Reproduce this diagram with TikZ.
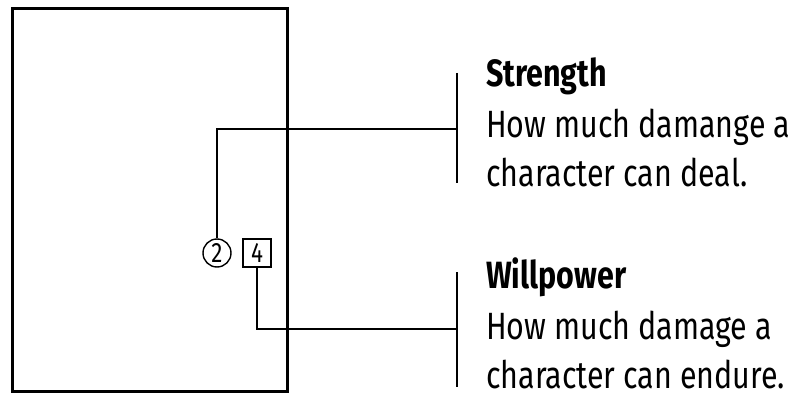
\documentclass[tikz,border=0pt]{standalone}
\usepackage{fontspec}
\setmainfont{Fira Sans}[FakeStretch=0.8]
\begin{document}
\begin{tikzpicture}[x=1pt,y=-1pt,
  conn/.style={line width=1.3pt},
  txt/.style={anchor=base west,inner sep=0pt,font=\fontsize{38}{38}\selectfont},
  head/.style={txt,font=\fontsize{38}{38}\selectfont\bfseries},
  num/.style={inner sep=0pt,font=\fontsize{28}{28}\selectfont,line width=1.4pt}]
\useasboundingbox (0,0) rectangle (804,393);
\draw[line width=3pt] (12,9) rectangle (287,391);
\node[num,draw,circle,minimum size=28pt] (c2) at (217,253) {2};
\node[num,draw,rectangle,minimum width=28pt,minimum height=28pt] (b4) at (257,253) {4};
\coordinate (t1) at (457,73);
\coordinate (m1) at (457,129);
\coordinate (e1) at (457,183);
\coordinate (t2) at (457,272);
\coordinate (m2) at (457,329);
\coordinate (e2) at (457,387);
\draw[conn] (t1) -- (e1);
\draw[conn] (t2) -- (e2);
\draw[conn] (c2.north) |- (m1);
\draw[conn] (b4.south) |- (m2);
\node[head] (s0) at (486,87) {Strength};
\node[txt] (s1) at (486,138) {How much damange a};
\node[txt] (s2) at (486,187) {character can deal.};
\node[head] (w0) at (486,288) {Willpower};
\node[txt] (w1) at (486,339) {How much damage a};
\node[txt] (w2) at (486,388) {character can endure.};
\end{tikzpicture}
\end{document}
